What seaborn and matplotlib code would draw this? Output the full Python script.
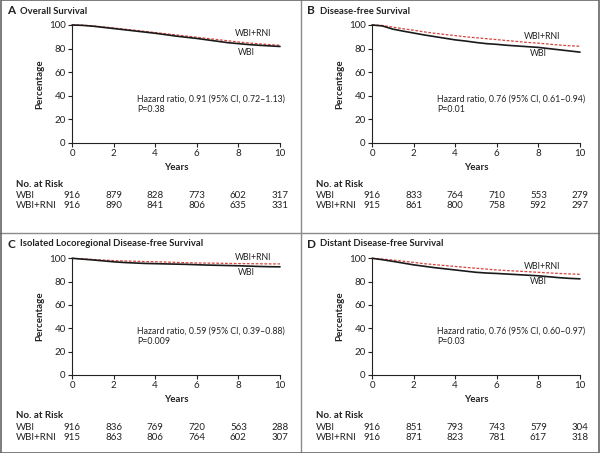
import numpy as np
import pandas as pd
import matplotlib
matplotlib.use("Agg")
import matplotlib.pyplot as plt
import matplotlib.transforms as mtransforms
from matplotlib.lines import Line2D
import seaborn as sns

# ---------------- data ----------------
years = [0, 0.5, 1, 1.5, 2, 2.5, 3, 3.5, 4, 4.5, 5, 5.5, 6, 6.5, 7, 7.5, 8, 8.5, 9, 9.5, 10]

os_wbi = [100, 99.7, 99.0, 98.0, 97.0, 96.0, 95.0, 94.0, 93.0, 91.8, 90.6, 89.6, 88.6, 87.4, 86.2, 85.0, 84.2, 83.4, 82.8, 82.3, 81.8]
os_rni = [100, 99.8, 99.3, 98.4, 97.5, 96.5, 95.6, 94.6, 93.6, 92.6, 91.6, 90.6, 89.6, 88.6, 87.6, 86.6, 85.6, 84.8, 84.0, 83.4, 82.8]

dfs_wbi = [100, 99.2, 96.5, 94.8, 93.2, 91.6, 90.2, 88.8, 87.4, 86.4, 85.2, 84.2, 83.6, 82.8, 82.2, 81.6, 81.0, 80.0, 79.0, 78.0, 77.0]
dfs_rni = [100, 99.6, 98.2, 96.8, 95.6, 94.2, 93.0, 92.0, 91.0, 90.0, 89.2, 88.4, 87.6, 86.8, 86.0, 85.2, 84.6, 83.8, 83.0, 82.4, 82.0]

lrr_wbi = [100, 99.3, 98.6, 97.8, 97.0, 96.4, 96.0, 95.6, 95.4, 95.2, 95.0, 94.8, 94.5, 94.2, 94.0, 93.8, 93.6, 93.3, 93.0, 92.8, 92.7]
lrr_rni = [100, 99.5, 99.0, 98.5, 98.0, 97.7, 97.5, 97.2, 97.0, 96.8, 96.5, 96.2, 96.0, 95.9, 95.8, 95.6, 95.5, 95.4, 95.3, 95.2, 95.2]

ddfs_wbi = [100, 98.8, 97.4, 95.9, 94.4, 93.2, 92.0, 91.0, 90.0, 89.0, 88.0, 87.4, 87.0, 86.5, 86.0, 85.5, 85.0, 84.2, 83.4, 82.8, 82.4]
ddfs_rni = [100, 99.3, 98.5, 97.5, 96.5, 95.4, 94.6, 93.8, 93.0, 92.2, 91.5, 90.7, 90.0, 89.5, 89.0, 88.5, 88.0, 87.5, 87.0, 86.6, 86.3]

risk_years = [0, 2, 4, 6, 8, 10]
risk_os_wbi = [916, 879, 828, 773, 602, 317]
risk_os_rni = [916, 890, 841, 806, 635, 331]
risk_dfs_wbi = [916, 833, 764, 710, 553, 279]
risk_dfs_rni = [915, 861, 800, 758, 592, 297]
risk_lrr_wbi = [916, 836, 769, 720, 563, 288]
risk_lrr_rni = [915, 863, 806, 764, 602, 307]
risk_ddfs_wbi = [916, 851, 793, 743, 579, 304]
risk_ddfs_rni = [916, 871, 823, 781, 617, 318]

letters = ["A", "B", "C", "D"]
titles = ["Overall Survival", "Disease-free Survival",
          "Isolated Locoregional Disease-free Survival", "Distant Disease-free Survival"]
hazard_texts = ["Hazard ratio, 0.91 (95% CI, 0.72\u20131.13)",
                "Hazard ratio, 0.76 (95% CI, 0.61\u20130.94)",
                "Hazard ratio, 0.59 (95% CI, 0.39\u20130.88)",
                "Hazard ratio, 0.76 (95% CI, 0.60\u20130.97)"]
p_texts = ["P=0.38", "P=0.01", "P=0.009", "P=0.03"]
group_names = ["WBI", "WBI+RNI"]

panels = [
    (os_wbi, os_rni, risk_os_wbi, risk_os_rni),
    (dfs_wbi, dfs_rni, risk_dfs_wbi, risk_dfs_rni),
    (lrr_wbi, lrr_rni, risk_lrr_wbi, risk_lrr_rni),
    (ddfs_wbi, ddfs_rni, risk_ddfs_wbi, risk_ddfs_rni),
]

# curve-label positions (data coords)
label_pos = [((8.7, 92.4), (8.4, 77.0)),
             ((8.2, 90.0), (8.0, 76.0)),
             ((8.7, 101.0), (8.4, 87.5)),
             ((8.2, 93.4), (8.0, 79.8))]

# ---------------- style ----------------
sns.set_style("ticks")
plt.rcParams['font.family'] = ['Lato', 'DejaVu Sans']

W, H = 600, 453
fig = plt.figure(figsize=(W / 100, H / 100), dpi=100)

lefts_px = [72, 372, 72, 372]
axw_px = 208
tops_px = [25, 25, 258.3, 258.3]
bots_px = [143, 143, 375, 375]
panel_x0 = [0, 300, 0, 300]
panel_y0 = [0, 0, 233, 233]

def fx(px):
    return px / W

def fy(py):
    return 1 - py / H

tick_fs = 7.0
text_fs = 7.0
hz_fs = 6.3
tc = "#222222"

for i in range(4):
    wbi, rni, r_wbi, r_rni = panels[i]
    l = lefts_px[i]
    ax = fig.add_axes([fx(l), fy(bots_px[i]), axw_px / W, (bots_px[i] - tops_px[i]) / H])
    df = pd.DataFrame({
        "Years": years * 2,
        "Percentage": wbi + rni,
        "Group": [group_names[0]] * len(years) + [group_names[1]] * len(years),
    })
    sns.lineplot(data=df[df.Group == "WBI+RNI"], x="Years", y="Percentage", ax=ax,
                 color="#d6443c", lw=0.9, linestyle=(0, (2.2, 1.3)), clip_on=False,
                 legend=False)
    sns.lineplot(data=df[df.Group == "WBI"], x="Years", y="Percentage", ax=ax,
                 color="#1a1a1a", lw=1.2, clip_on=False, legend=False)
    ax.set_xlim(0, 10)
    ax.set_ylim(0, 100)
    ax.set_xticks([0, 2, 4, 6, 8, 10])
    ax.set_yticks([0, 20, 40, 60, 80, 100])
    sns.despine(ax=ax)
    for s in ["left", "bottom"]:
        ax.spines[s].set_linewidth(0.8)
        ax.spines[s].set_color(tc)
    ax.tick_params(axis="both", direction="out", length=3, width=0.8, labelsize=tick_fs,
                   pad=1.5, colors=tc)
    ax.set_xlabel("")
    ax.set_ylabel("Percentage", fontsize=text_fs, fontweight="bold", color=tc)
    ax.yaxis.set_label_coords(-(l - panel_x0[i] - 40.7 - 4) / axw_px, 0.5)

    (rx, ry), (wx, wy) = label_pos[i]
    ax.text(rx, ry, "WBI+RNI", fontsize=hz_fs, ha="center", va="center", color=tc)
    ax.text(wx, wy, "WBI", fontsize=hz_fs, ha="center", va="center", color=tc)

    hy_px = [99, 99, 331, 331][i]
    fig.text(fx(panel_x0[i] + 137), fy(hy_px), hazard_texts[i],
             fontsize=hz_fs, ha="left", va="center", color=tc)
    fig.text(fx(panel_x0[i] + 137), fy(hy_px + 10), p_texts[i],
             fontsize=hz_fs, ha="left", va="center", color=tc)

    ty = panel_y0[i] + 11
    fig.text(fx(panel_x0[i] + 7), fy(ty), letters[i], fontsize=8.5, fontweight="bold",
             ha="left", va="center", color=tc)
    fig.text(fx(panel_x0[i] + 20), fy(ty), titles[i], fontsize=6.8, fontweight="bold",
             ha="left", va="center", color=tc)

    ybase = bots_px[i]
    fig.text(fx(l + axw_px / 2), fy(ybase + 25), "Years", fontsize=text_fs, fontweight="bold",
             ha="center", va="center", color=tc)

    fig.text(fx(panel_x0[i] + 16), fy(ybase + 41), "No. at Risk", fontsize=text_fs,
             fontweight="bold", ha="left", va="center", color=tc)
    trans = mtransforms.blended_transform_factory(ax.transData, fig.transFigure)
    for row, (name, vals) in enumerate(zip(group_names, [r_wbi, r_rni])):
        yy = fy(ybase + 52 + row * 11)
        fig.text(fx(panel_x0[i] + 16), yy, name, fontsize=text_fs, ha="left", va="center",
                 color=tc)
        for xv, v in zip(risk_years, vals):
            ax.text(xv, yy, str(v), transform=trans, fontsize=text_fs, ha="center",
                    va="center", color=tc, clip_on=False)

border_color = "#8a8a8a"
fig.add_artist(Line2D([fx(300.5), fx(300.5)], [0, 1], color=border_color, lw=1.0))
fig.add_artist(Line2D([0, 1], [fy(233), fy(233)], color=border_color, lw=1.0))
fig.add_artist(Line2D([0.001, 0.999, 0.999, 0.001, 0.001], [0.001, 0.001, 0.999, 0.999, 0.001],
                      color="#666666", lw=1.2))

fig.savefig("out.png", dpi=100)
